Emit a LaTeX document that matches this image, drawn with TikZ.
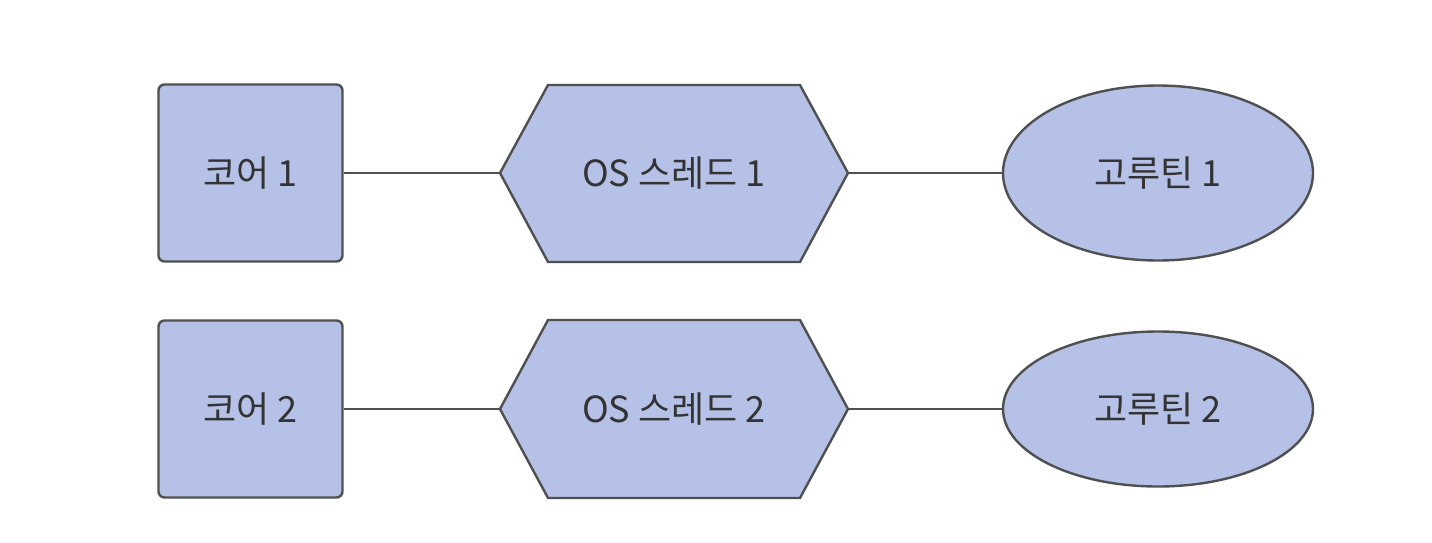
\documentclass[tikz,border=0pt]{standalone}
\usepackage{fontspec}
\setmainfont{Noto Sans CJK KR}
\usetikzlibrary{shapes.geometric}
\definecolor{fillblue}{HTML}{B5C1E6}
\definecolor{edgegray}{HTML}{505050}
\definecolor{txtgray}{HTML}{333333}
\begin{document}
\begin{tikzpicture}[x=0.5pt,y=-0.5pt,
  every node/.style={text=txtgray,font=\fontsize{18pt}{20pt}\selectfont},
  corebox/.style={draw=edgegray,fill=fillblue,line width=1.2pt,rounded corners=3pt,minimum width=92pt,minimum height=88.5pt,inner sep=0pt},
  hexa/.style={draw=edgegray,fill=fillblue,line width=1.2pt,line join=miter},
  corout/.style={ellipse,draw=edgegray,fill=fillblue,line width=1.2pt,inner sep=0pt,minimum width=155pt},
  link/.style={draw=edgegray,line width=1.2pt}]
\useasboundingbox (0,0) rectangle (1432,542);
% row 1
\node[corebox] (c1) at (250.5,173) {코어 1};
\draw[hexa] (500,173) coordinate (h1w) -- (548,85) -- (800,85) -- (848,173) coordinate (h1e) -- (800,262) -- (548,262) -- cycle;
\node (h1) at (674,173) {OS 스레드 1};
\node[corout,minimum height=87.5pt] (g1) at (1158,173) {고루틴 1};
\draw[link] (c1.east) -- (h1w);
\draw[link] (h1e) -- (g1.west);
% row 2
\node[corebox] (c2) at (250.5,409) {코어 2};
\draw[hexa] (500,409) coordinate (h2w) -- (548,320) -- (800,320) -- (848,409) coordinate (h2e) -- (800,498) -- (548,498) -- cycle;
\node (h2) at (674,409) {OS 스레드 2};
\node[corout,minimum height=77.5pt] (g2) at (1158,409) {고루틴 2};
\draw[link] (c2.east) -- (h2w);
\draw[link] (h2e) -- (g2.west);
\end{tikzpicture}
\end{document}
